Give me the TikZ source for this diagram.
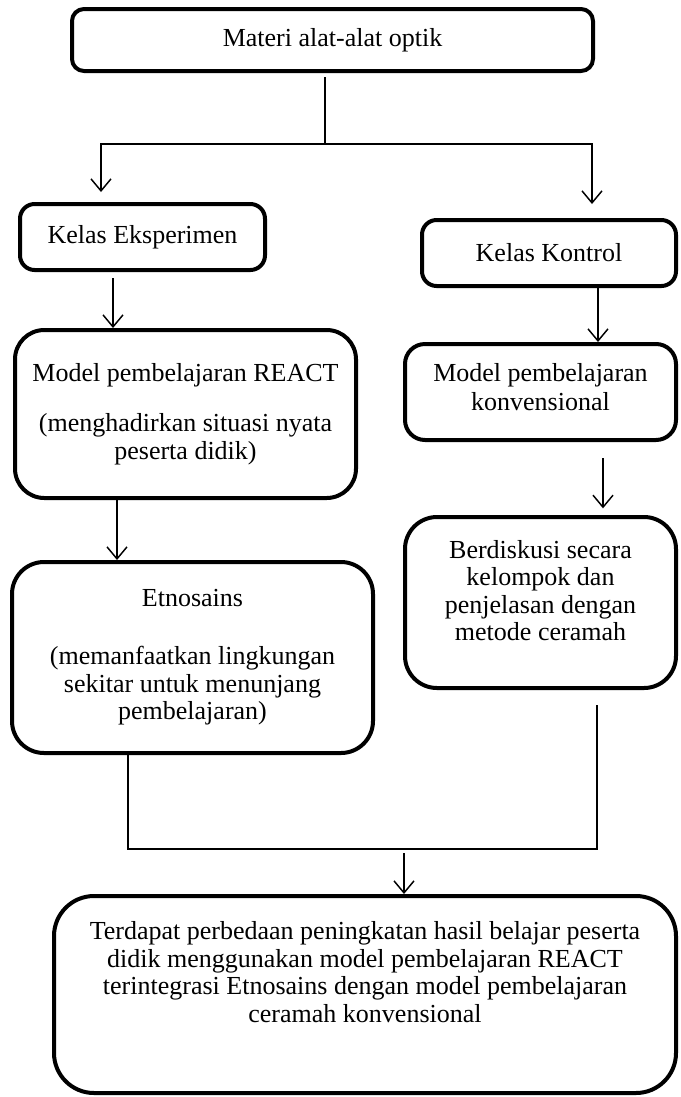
\documentclass[tikz,border=0pt]{standalone}
\usepackage{fontspec}
\setmainfont{Liberation Serif}
\usetikzlibrary{arrows.meta}

\begin{document}
\begin{tikzpicture}[x=0.75pt,y=-0.75pt,
    >={Straight Barb[length=9pt,width=15pt]},
    box/.style={draw,line width=3pt,align=center,inner sep=0pt,
      font=\fontsize{19.5pt}{20.6pt}\selectfont},
    link/.style={line width=1.1pt}]
  \useasboundingbox (0,0) rectangle (681,1097);
  % boxes
  \node[box,rounded corners=9pt,minimum width=390.75pt,minimum height=46.5pt] (top) at (332.5,40) {Materi alat-alat optik};
  \node[box,rounded corners=11pt,minimum width=183.75pt,minimum height=49.5pt] (eks) at (142.5,237) {Kelas Eksperimen};
  \node[box,rounded corners=11pt,minimum width=190.5pt,minimum height=49.5pt] (kon) at (549,253) {Kelas Kontrol};
  \node[box,rounded corners=22pt,minimum width=255.75pt,minimum height=126pt] (react) at (185.5,414)
    {Model pembelajaran REACT\\[17pt](menghadirkan situasi nyata\\peserta didik)};
  \node[box,rounded corners=15pt,minimum width=203.25pt,minimum height=72pt] (konv) at (540.5,392)
    {Model pembelajaran\\[1pt]konvensional\\[-19pt]\strut};
  \node[box,rounded corners=24pt,minimum width=270.75pt,minimum height=143.25pt] (etno) at (192.5,657.5)
    {Etnosains\\[23pt](memanfaatkan lingkungan\\sekitar untuk menunjang\\pembelajaran)};
  \node[box,rounded corners=24pt,minimum width=203.25pt,minimum height=128.25pt] (disk) at (540.5,602.5)
    {Berdiskusi secara\\kelompok dan\\penjelasan dengan\\metode ceramah\\[-8.6pt]\strut};
  \node[box,rounded corners=30pt,minimum width=466.5pt,minimum height=147.75pt] (final) at (365,994.5)
    {Terdapat perbedaan peningkatan hasil belajar peserta\\didik menggunakan model pembelajaran REACT\\terintegrasi Etnosains dengan model pembelajaran\\ceramah konvensional\\[7pt]\strut};
  % connectors
  \coordinate (fork) at (325,144);
  \coordinate (merge) at (404,849);
  \draw[link,shorten <=3pt] (top.south -| fork) -- (fork);
  \draw[link,->,shorten >=7.5pt] (fork) -| (101,0 |- eks.north);
  \draw[link,->,shorten >=10.5pt] (fork) -| (592,0 |- kon.north);
  \draw[link,->,shorten <=4.5pt] (113,0 |- eks.south) -- (113,0 |- react.north);
  \draw[link,->] (598,0 |- kon.south) -- (598,0 |- konv.north);
  \draw[link,->] (117,0 |- react.south) -- (117,0 |- etno.north);
  \draw[link,->,shorten <=12pt,shorten >=5pt] (603,0 |- konv.south) -- (603,0 |- disk.north);
  \draw[link,shorten >=11pt] (128,0 |- etno.south) |- (merge) -| (597,0 |- disk.south);
  \draw[link,->,shorten <=3pt] (merge) -- (merge |- final.north);
\end{tikzpicture}
\end{document}
